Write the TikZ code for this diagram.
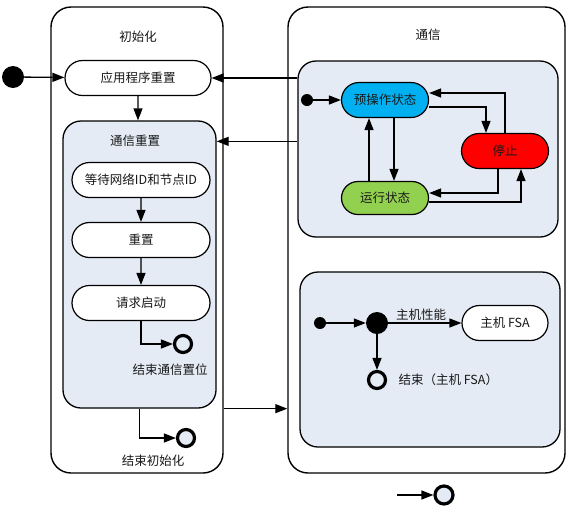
\documentclass[tikz,border=0pt]{standalone}
\usepackage{fontspec}
\setmainfont{Noto Sans CJK SC}
\usepackage{tikz}
\usetikzlibrary{arrows.meta, shapes.misc}

\definecolor{boxblue}{HTML}{E4EBF5}
\definecolor{preopblue}{HTML}{00B0F0}
\definecolor{stopred}{HTML}{FF0000}
\definecolor{rungreen}{HTML}{92D050}

\tikzset{
  state/.style={draw, rounded rectangle, line width=1.2pt, fill=white, minimum height=35pt, inner sep=2pt},
  outerbox/.style={draw, rounded corners=20pt, line width=1.4pt, fill=white},
  innerbox/.style={draw, rounded corners=18pt, line width=1.3pt, fill=boxblue},
  enddot/.style={draw, circle, line width=3.2pt, fill=boxblue, minimum size=17pt, inner sep=0pt},
  startdot/.style={circle, fill=black, inner sep=0pt},
  arr/.style={-{Triangle[length=12pt,width=9pt]}, line width=1.3pt},
}

\begin{document}
\begin{tikzpicture}[x=1pt, y=-1pt, font=\fontsize{12.5}{15}\selectfont, text=black!90]
                \useasboundingbox (0,0) rectangle (575,512);

                % Initialisation
                \node[outerbox, minimum width=172pt, minimum height=466pt] (init) at (137,240) {};
                \node (inittitle) at (138,37) {初始化};
                \node[state, minimum width=150pt] (apply) at (138,78) {应用程序重置};
                \node[startdot, minimum size=22pt] (start) at (13,77) {};

                % Communication reset
                \node[innerbox, minimum width=153pt, minimum height=287pt] (commreset) at (139.5,264.5) {};
                \coordinate (resetin) at ([yshift=-21pt]commreset.north east);
                \node (resettitle) at (135,141) {通信重置};
                \node[state, minimum width=142pt] (wait) at (141,180) {等待网络ID和节点ID};
                \node[state, minimum width=142pt] (reset) at (141,240) {重置};
                \node[state, minimum width=142pt] (reqstart) at (141,303) {请求启动};
                \node[enddot] (endreset) at (183,344) {};
                \node (endresetlabel) at (170,370) {结束通信置位};
                \node[enddot] (endinit) at (186,438) {};
                \node (endinitlabel) at (153,461) {结束初始化};

                % Communication
                \node[outerbox, minimum width=277pt, minimum height=466pt] (comm) at (426.5,240) {};
                \node (commtitle) at (428,35) {通信};

                % Operating states
                \node[innerbox, minimum width=260pt, minimum height=176pt] (commtop) at (428,149) {};
                \node[startdot, minimum size=12pt] (opstart) at (307,100) {};
                \node[state, minimum width=91pt, fill=preopblue] (preop) at (385,100) {预操作状态};
                \node[state, minimum width=91pt, fill=stopred] (stop) at (505,151) {停止};
                \node[state, minimum width=91pt, minimum height=33pt, fill=rungreen] (run) at (385,198) {运行状态};

                % Host
                \node[innerbox, minimum width=260pt, minimum height=175pt] (commbot) at (430,359.5) {};
                \node[startdot, minimum size=12pt] (hoststart) at (320,323) {};
                \node[startdot, minimum size=22pt] (hostfork) at (377,323) {};
                \node[state, minimum width=90pt] (hostfsa) at (505,323) {主机 FSA};
                \node[enddot] (endhost) at (377,380) {};
                \node[anchor=west] (endhostlabel) at (395,380) {结束（主机 FSA）};

                % Legend
                \coordinate (legstart) at (397,495);
                \node[enddot, minimum size=18pt] (legend) at (444,495) {};

                % Initialisation arrows
                \draw[arr] (start) -- (apply);
                \draw[arr] (apply) -- (commreset.north -| apply);
                \draw[arr] (wait) -- (reset);
                \draw[arr] (reset) -- (reqstart);
                \draw[arr] (reqstart) |- (endreset);
                \draw[arr] (commreset.south) |- (endinit);
                \draw[arr] (init.east |- commreset.south) -- (comm.west |- commreset.south);

                % Back to initialisation
                \draw[arr] (commtop.west |- apply.east) -- (apply.east);
                \draw[arr] (commtop.west |- resetin) -- (resetin);

                % State transitions
                \draw[arr] (opstart) -- (preop);
                \draw[arr] ([xshift=-16pt]run.north) -- ([xshift=-16pt]preop.south);
                \draw[arr] ([xshift=9pt]preop.south) -- ([xshift=9pt]run.north);
                \draw[arr] ([yshift=-7pt]preop.east) -| ([xshift=-19pt]stop.north);
                \draw[arr] (stop.north) |- ([yshift=7pt]preop.east);
                \draw[arr] ([xshift=-7pt]stop.south) |- ([yshift=5pt]run.east);
                \draw[arr] ([yshift=-4pt]run.east) -| ([xshift=16pt]stop.south);

                % Host arrows
                \draw[arr] (hoststart) -- (hostfork);
                \draw[arr] (hostfork) -- node[above, pos=0.45, yshift=-1pt] {主机性能} (hostfsa);
                \draw[arr] (hostfork) -- (endhost);
                \draw[arr] (legstart) -- (legend);
\end{tikzpicture}
\end{document}
